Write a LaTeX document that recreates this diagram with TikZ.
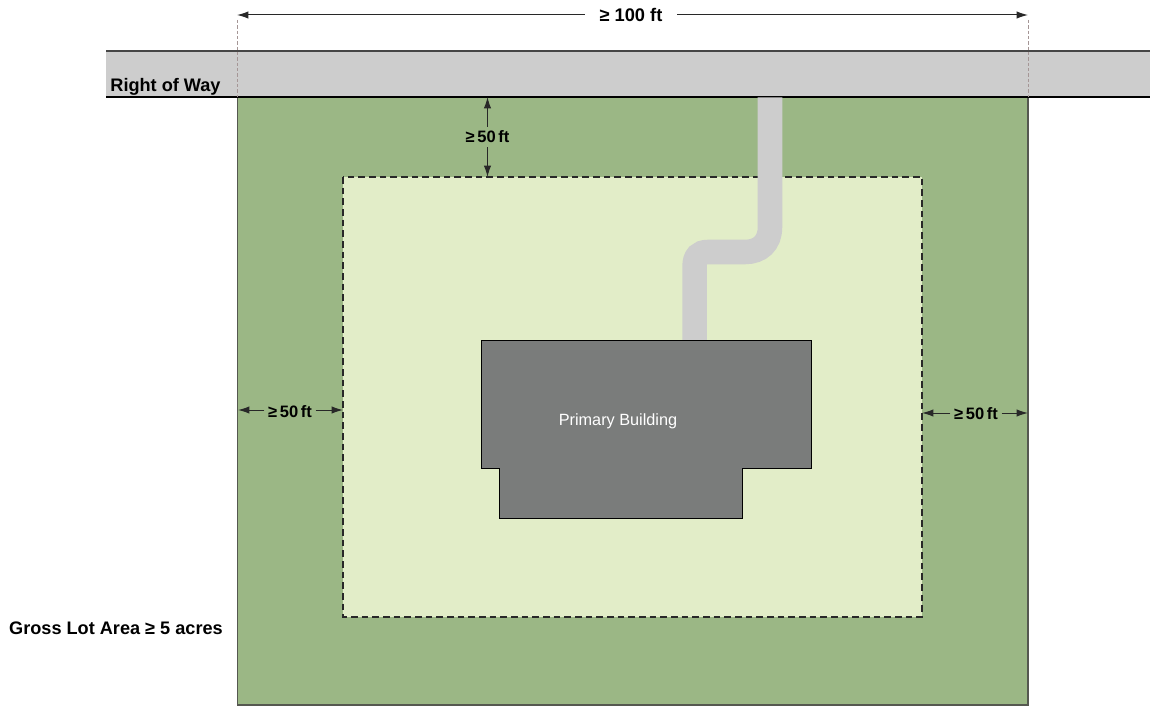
\documentclass[tikz,border=0pt]{standalone}
\usepackage{fontspec}
\setmainfont{Liberation Sans}
\usetikzlibrary{arrows.meta}

\tikzset{
  every picture/.style={line width=0.6pt},
  dimarrow/.style={draw={rgb, 255:red, 40; green, 40; blue, 40}, line width=0.75pt, -{Latex[length=8.5pt,width=5.5pt]}},
  dimlabel/.style={font=\bfseries\fontsize{12.4}{14}\selectfont, inner xsep=2.5pt, inner ysep=3pt},
  sidelabel/.style={font=\bfseries\fontsize{13.6}{15}\selectfont, inner sep=0pt},
  extline/.style={draw={rgb, 255:red, 165; green, 150; blue, 150}, line width=0.6pt, dash pattern={on 2.5pt off 1.5pt}}
}

\begin{document}
\begin{tikzpicture}[x=0.75pt,y=0.75pt,yscale=-1,xscale=1]
\useasboundingbox (0,0) rectangle (1153,706);

%Gross lot
\draw [draw={rgb, 255:red, 85; green, 88; blue, 80}, fill={rgb, 255:red, 155; green, 183; blue, 133}, line width=0.9pt] (237.5,97) rectangle (1028,705);
%Setback area
\draw [fill={rgb, 255:red, 226; green, 237; blue, 200}, draw={rgb, 255:red, 40; green, 40; blue, 40}, line width=0.8pt, dash pattern={on 5pt off 3pt}] (343,177) rectangle (922,617);
%Right of way
\fill [fill={rgb, 255:red, 205; green, 205; blue, 205}] (106,51) rectangle (1150,97);
\draw [draw={rgb, 255:red, 70; green, 70; blue, 70}, line width=0.8pt] (106,51) -- (1150,51);
\draw [black, line width=0.8pt] (106,97) -- (1150,97);
%Driveway
\draw [draw={rgb, 255:red, 205; green, 205; blue, 205}, line width=18.4pt] (770,97.5) -- (770,227) .. controls (770,243) and (760,252) .. (745,252) -- (708,252) .. controls (699,252) and (694.6,257) .. (694.6,266) -- (694.6,340);
%Primary building
\draw [fill={rgb, 255:red, 122; green, 124; blue, 123}, draw=black, line width=0.7pt] (481,340) -- (811,340) -- (811,468) -- (742,468) -- (742,518) -- (499,518) -- (499,468) -- (481,468) -- cycle;

% Extension lines
\draw [extline] (237.5,20) -- (237.5,97);
\draw [extline] (1028,20) -- (1028,97);

% Text Node
\node [sidelabel, text=white, font=\fontsize{12.2}{14}\selectfont] (building) at (618,421) {Primary Building};
\node [sidelabel] (row) at (165.5,87) {Right of Way};
\node [sidelabel] (gross) at (116,628) {Gross Lot Area ≥ 5 acres};
\node [dimlabel, font=\bfseries\fontsize{13.7}{15}\selectfont, inner xsep=10.8pt] (width) at (631,15) {≥ 100 ft};
\node [dimlabel] (front) at (487.5,137) {≥\,50\,ft};
\node [dimlabel] (left) at (290,412) {≥\,50\,ft};
\node [dimlabel] (right) at (976,414) {≥\,50\,ft};

\coordinate (widthl) at (237,15);
\coordinate (widthr) at (1028,15);
\coordinate (frontt) at (487.5,97);
\coordinate (frontb) at (487.5,177);
\coordinate (leftl) at (238,410);
\coordinate (leftr) at (343,410);
\coordinate (rightl) at (922,413);
\coordinate (rightr) at (1028,413);

\draw [dimarrow] (width) -- (widthl);
\draw [dimarrow] (width) -- (widthr);
\draw [dimarrow] (front) -- (frontt);
\draw [dimarrow] (front) -- (frontb);
\draw [dimarrow] (left.west |- leftl) -- (leftl);
\draw [dimarrow] (left.east |- leftr) -- (leftr);
\draw [dimarrow] (right.west |- rightl) -- (rightl);
\draw [dimarrow] (right.east |- rightr) -- (rightr);

\end{tikzpicture}
\end{document}
